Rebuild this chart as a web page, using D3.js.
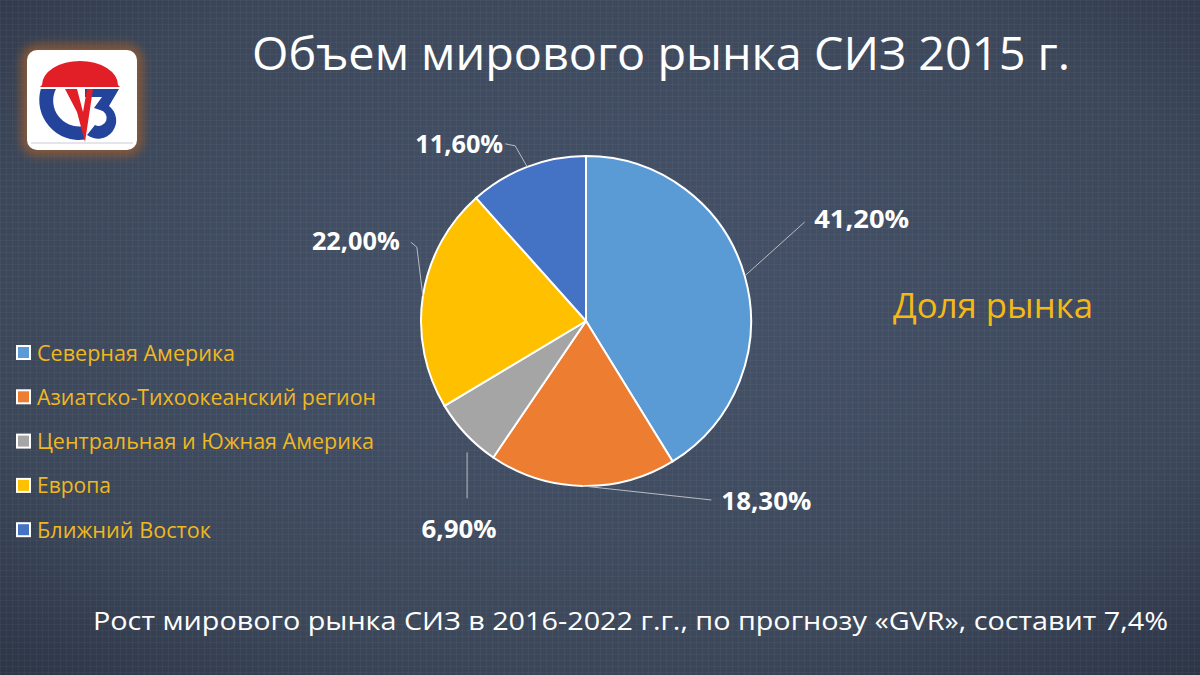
<!DOCTYPE html>
<html><head><meta charset="utf-8">
<script src="https://cdn.jsdelivr.net/npm/d3@7"></script>
<style>
html,body{margin:0;padding:0;background:#3c4759;}
svg{display:block;}
</style></head>
<body>
<svg id="chart" width="1200" height="675"></svg>
<script>
// ---- data ----
const categories = ["Северная Америка","Азиатско-Тихоокеанский регион","Центральная и Южная Америка","Европа","Ближний Восток"];
const values = [41.2, 18.3, 6.9, 22.0, 11.6];
const valueLabels = ["41,20%","18,30%","6,90%","22,00%","11,60%"];
const colors = ["#5b9bd5","#ed7d31","#a5a5a5","#ffc000","#4472c4"];
const titleText = "Объем мирового рынка СИЗ 2015 г.";
const sideText = "Доля рынка";
const footText = "Рост мирового рынка СИЗ в 2016-2022 г.г., по прогнозу «GVR», составит 7,4%";
// label layout: leader path bend offsets, text anchor offset and text width
const labelLayout = [
  {pts:[[0,0],[60,-54]], tx:117, ty:-57, w:95},
  {pts:[[0,0],[129,14]], tx:184, ty:15, w:90},
  {pts:[[1,18],[1,64]], tx:-7, ty:95, w:75},
  {pts:[[0,0],[-6,-49],[-12,-54]], tx:-67, ty:-55, w:88},
  {pts:[[0,0],[-12,-21],[-22,-23]], tx:-68, ty:-23, w:88}
];
const legendWidths = [198, 339, 337, 74, 174];
const FONT = "'Open Sans', 'Noto Sans', sans-serif";

const svg = d3.select("#chart");
const W = 1200, H = 675;
const defs = svg.append("defs");

// background
const bg = defs.append("radialGradient").attr("id","bg").attr("cx","50%").attr("cy","45%").attr("r","75%");
bg.append("stop").attr("offset","0%").attr("stop-color","#46536a");
bg.append("stop").attr("offset","70%").attr("stop-color","#3c475a");
bg.append("stop").attr("offset","100%").attr("stop-color","#2c3546");
svg.append("rect").attr("width",W).attr("height",H).attr("fill","url(#bg)");
const pat = defs.append("pattern").attr("id","tex").attr("width",6).attr("height",6).attr("patternUnits","userSpaceOnUse");
pat.append("path").attr("d","M0 0.5H6M0.5 0V6").attr("stroke","#ffffff").attr("stroke-opacity",0.03).attr("stroke-width",1);
svg.append("rect").attr("width",W).attr("height",H).attr("fill","url(#tex)");

// logo
const glow = defs.append("filter").attr("id","glow").attr("x","-30%").attr("y","-30%").attr("width","160%").attr("height","160%");
glow.append("feGaussianBlur").attr("stdDeviation",5);
const logo = svg.append("g").attr("transform","translate(27,50)");
logo.append("rect").attr("x",-6).attr("y",-6).attr("width",122).attr("height",112).attr("rx",16)
  .attr("fill","#8f5a35").attr("opacity",0.85).attr("filter","url(#glow)");
logo.append("rect").attr("width",110).attr("height",100).attr("rx",10).attr("fill","#ffffff");
logo.append("line").attr("x1",4).attr("x2",106).attr("y1",93).attr("y2",93).attr("stroke","#c8ccd6").attr("stroke-width",1);
logo.append("path").attr("d","M15 35 A38 24 0 0 1 91 35 L93 37 L13 37 Z").attr("fill","#e21f26");
logo.append("path").attr("d","M13.8 39 A40 40 0 0 0 58 89.6 L56 76.3 A26 26 0 0 1 28.9 39 Z").attr("fill","#24439b");
logo.append("path").attr("d","M58 39 L92 39 L82 56 A18 18 0 1 1 60 85 L68 75 A8 8 0 1 0 73 60 L67 58 L75 47 L58 47 Z").attr("fill","#24439b");
logo.append("path").attr("d","M38 39 L50 39 L56 62 L60 39 L66 39 L58 92 L50 62 Z").attr("fill","#e21f26");

// title
svg.append("text").attr("x",661).attr("y",70).attr("text-anchor","middle")
  .attr("font-family",FONT).attr("font-size",45).attr("fill","#ffffff")
  .attr("textLength",818).attr("lengthAdjust","spacingAndGlyphs")
  .text(titleText);

// pie
const cx = 586, cy = 321, R = 165;
const pie = d3.pie().sort(null).value(d=>d).startAngle(0).endAngle(2*Math.PI);
const arcs = pie(values);
const arc = d3.arc().innerRadius(0).outerRadius(R);
const g = svg.append("g").attr("transform",`translate(${cx},${cy})`);
g.selectAll("path.slice").data(arcs).join("path").attr("class","slice")
  .attr("d",arc).attr("fill",(d,i)=>colors[i]).attr("stroke","#ffffff").attr("stroke-width",2);

// leader lines & labels
arcs.forEach((d,i)=>{
  const a = (d.startAngle+d.endAngle)/2;
  const px = R*Math.sin(a), py = -R*Math.cos(a);
  const L = labelLayout[i];
  const pts = L.pts.map(p=>[px+p[0], py+p[1]]);
  g.append("path").attr("d", d3.line()(pts)).attr("fill","none").attr("stroke","#b8bcc4").attr("stroke-width",1);
  g.append("text").attr("x",px+L.tx).attr("y",py+L.ty+9).attr("text-anchor","middle")
    .attr("font-family",FONT).attr("font-weight","bold").attr("font-size",25)
    .attr("textLength",L.w).attr("lengthAdjust","spacingAndGlyphs")
    .attr("fill","#ffffff").text(valueLabels[i]);
});

// legend
const leg = svg.append("g");
categories.forEach((c,i)=>{
  const y = 353 + i*44.3;
  leg.append("rect").attr("x",17).attr("y",y-7).attr("width",13).attr("height",13)
    .attr("fill",colors[i]).attr("stroke","#ffffff").attr("stroke-width",2);
  leg.append("text").attr("x",37).attr("y",y+7.5).attr("font-family",FONT)
    .attr("font-size",21).attr("fill","#f0b81e")
    .attr("textLength",legendWidths[i]).attr("lengthAdjust","spacingAndGlyphs").text(c);
});

// side text
svg.append("text").attr("x",893).attr("y",318).attr("font-family",FONT)
  .attr("font-size",34).attr("fill","#f5b915")
  .attr("textLength",200).attr("lengthAdjust","spacingAndGlyphs").text(sideText);

// footer
svg.append("text").attr("x",630.5).attr("y",630).attr("text-anchor","middle")
  .attr("font-family",FONT).attr("font-size",26).attr("fill","#ffffff")
  .attr("textLength",1075).attr("lengthAdjust","spacingAndGlyphs")
  .text(footText);
</script>
</body></html>
